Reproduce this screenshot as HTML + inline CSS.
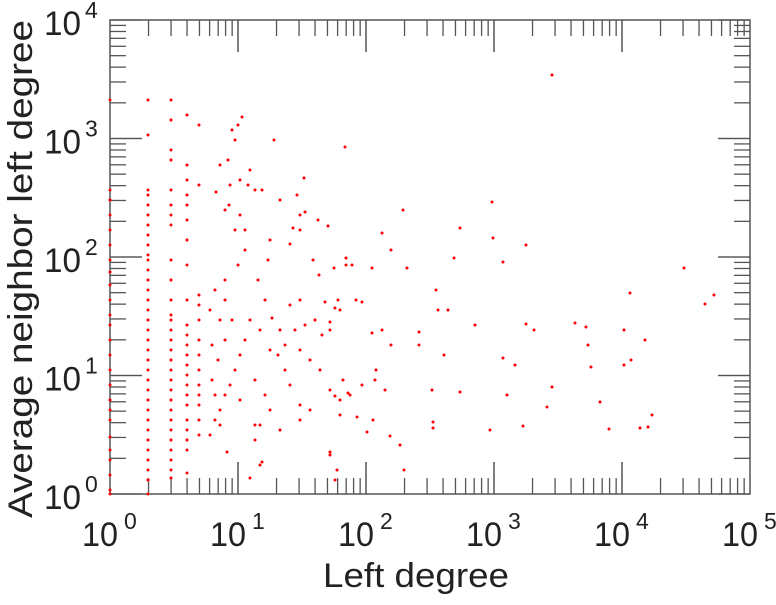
<!DOCTYPE html>
<html><head><meta charset="utf-8"><style>
html,body{margin:0;padding:0;background:#fff;}
svg text{font-family:"Liberation Sans",sans-serif;fill:#222;}
</style></head><body>
<svg id="s" width="776" height="600" xmlns="http://www.w3.org/2000/svg">
<g id="ticks" stroke="#555" stroke-width="1.3"></g>
<rect x="110" y="20" width="640" height="474" fill="none" stroke="#555" stroke-width="1.5"/>
<g id="pts" fill="#ff0000"></g>
<g id="lab" font-size="34"></g>
<text x="323" y="587" font-size="34" textLength="186" lengthAdjust="spacingAndGlyphs">Left degree</text>
<text transform="translate(32,518) rotate(-90)" font-size="34" textLength="498" lengthAdjust="spacingAndGlyphs">Average neighbor left degree</text>
</svg>
<script>
var NS="http://www.w3.org/2000/svg";
function el(p,t,a){var e=document.createElementNS(NS,t);for(var k in a)e.setAttribute(k,a[k]);p.appendChild(e);return e;}
var T=document.getElementById('ticks'),L=document.getElementById('lab'),P=document.getElementById('pts');
var x0=110,x1=750,y0=494,y1=20,dx=(x1-x0)/5,dy=(y0-y1)/4;
for(var d=0;d<5;d++)for(var m=1;m<=10;m++){if(d==4&&m==10)continue;var x=x0+dx*(d+Math.log10(m));var len=m==1||m==10?32:16;if(m==1&&d==0)continue;
el(T,'line',{x1:x,y1:y0,x2:x,y2:y0-len});el(T,'line',{x1:x,y1:y1,x2:x,y2:y1+len});}
for(var d=0;d<4;d++)for(var m=1;m<=10;m++){var y=y0-dy*(d+Math.log10(m));var len=m==1||m==10?32:16;
el(T,'line',{x1:x0,y1:y,x2:x0+len,y2:y});el(T,'line',{x1:x1,y1:y,x2:x1-len,y2:y});}
for(var i=0;i<=5;i++){var x=x0+dx*i;var t=el(L,'text',{x:x-28,y:546,textLength:36,lengthAdjust:'spacingAndGlyphs'});t.textContent='10';var s=el(L,'text',{x:x+14,y:529,'font-size':23});s.textContent=i;}
for(var i=0;i<=4;i++){var y=y0-dy*i;var t=el(L,'text',{x:44,y:y+15,textLength:37,lengthAdjust:'spacingAndGlyphs'});t.textContent='10';var s=el(L,'text',{x:85,y:y-2,'font-size':23});s.textContent=i;}
var cols={110:[100,190,200,215,230,245,260,272,285,300,315,325,340,355,370,385,400,410,420,437,450,460,475,490,494],
148:[100,135,190,195,205,215,225,235,245,255,260,270,280,290,300,310,320,330,340,350,360,370,380,390,400,410,420,430,440,450,460,470,480,494],
171:[100,120,150,160,190,205,215,225,260,280,300,315,320,330,340,350,360,370,380,390,400,410,420,430,440,450,460,470,478],
187:[115,165,180,195,205,220,240,265,300,325,335,345,355,365,375,385,395,405,420,430,440,450,473],
199:[125,185,295,305,320,340,355,370,385,395,405,420,435]};
for(var c in cols)cols[c].forEach(function(y){el(P,'circle',{cx:c,cy:y,r:1.5});});
var pts=[[216,192],[220,165],[225,210],[229,205],[235,140],[238,125],[242,117],[240,215],[235,230],[245,230],[250,170],[255,190],[262,190],[248,185],[274,140],[304,178],[345,147],[297,195],[305,212],[293,228],[300,230],[318,220],[328,226],[352,265],[372,268],[382,233],[391,250],[403,210],[407,268],[460,228],[492,202],[526,245],[503,262],[454,258],[436,290],[419,332],[438,310],[448,310],[475,325],[526,324],[493,238],[503,358],[534,330],[552,387],[575,323],[586,327],[588,345],[591,367],[600,402],[609,429],[624,330],[624,365],[630,293],[631,360],[640,428],[645,340],[648,427],[652,415],[684,268],[705,304],[714,295],[552,75],[515,365],[507,395],[547,407],[523,426],[490,430],[432,390],[433,422],[433,428],[375,380],[376,370],[362,385],[357,417],[367,432],[390,436],[400,445],[404,470],[373,420],[372,333],[346,258],[346,265],[334,268],[319,275],[313,260],[325,302],[335,308],[330,330],[338,300],[340,310],[300,300],[290,305],[280,330],[300,350],[310,360],[320,370],[330,390],[340,415],[310,410],[300,405],[290,385],[285,370],[270,350],[260,330],[250,320],[245,340],[240,355],[235,370],[230,385],[225,395],[220,410],[215,420],[210,435],[210,310],[215,290],[225,280],[232,320],[240,400],[255,380],[265,395],[270,410],[260,425],[255,440],[250,478],[260,465],[262,462],[255,425],[227,452],[335,396],[348,393],[290,244],[300,215],[270,240],[268,260],[280,200],[240,180],[230,185],[228,160],[300,420],[280,430],[232,130],[330,452],[335,480],[337,470],[330,455],[220,425],[225,340],[220,320],[218,360],[212,380],[215,395],[212,345],[225,300],[238,265],[245,250],[258,280],[265,300],[272,318],[278,355],[285,345],[295,330],[305,325],[315,320],[322,335],[330,322],[343,380],[350,395],[356,300],[362,302],[382,330],[391,345],[419,345],[444,355],[460,392],[340,400],[385,390]];
pts.forEach(function(p){el(P,'circle',{cx:p[0],cy:p[1],r:1.5});});
</script>
</body></html>
